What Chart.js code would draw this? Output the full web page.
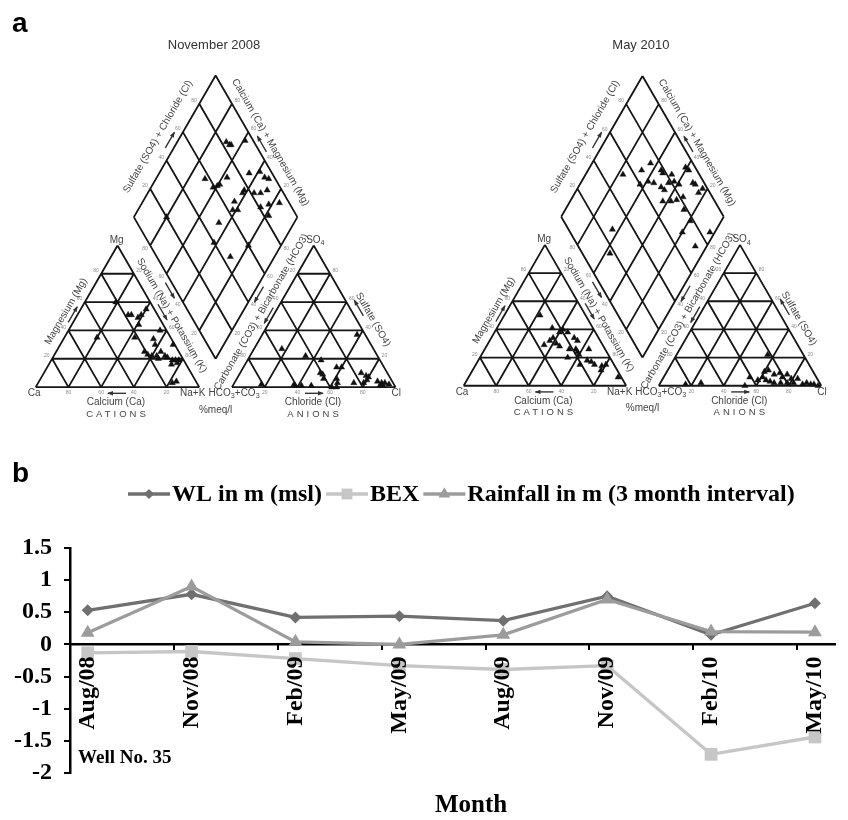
<!DOCTYPE html>
<html>
<head>
<meta charset="utf-8">
<title>Piper diagrams and Well No. 35</title>
<script src="https://cdn.jsdelivr.net/npm/chart.js"></script>
<style>
  html, body { margin: 0; padding: 0; background: #fff; }
  #wrap { position: relative; width: 848px; height: 820px; overflow: hidden; }
  canvas { position: absolute; }
  #piperNov { left: 0; top: 0; }
  #piperMay { left: 424px; top: 0; }
  #wellChart { left: 0; top: 440px; }
</style>
</head>
<body>
<div id="wrap">
  <canvas id="piperNov" width="424" height="430"></canvas>
  <canvas id="piperMay" width="424" height="430"></canvas>
  <canvas id="wellChart" width="848" height="380"></canvas>
</div>
<script>
// ---- a: Piper diagrams, values in %meq/l ----
// cations [Ca, Mg, Na+K]
const nov08Cations = [
  [18, 51, 31], [16, 51, 33], [13, 49, 38], [10, 51, 39], [5, 55, 40], [15, 44, 41], [45, 35, 20],
  [22, 35, 43], [4, 40, 56], [11, 34, 55], [1, 30, 69], [12, 30, 58], [21, 25, 54], [20, 23, 57],
  [18, 22, 60], [15, 22, 63], [10, 22, 68], [9, 21, 70], [7, 19, 74], [5, 19, 76], [3, 19, 78],
  [9, 16, 75], [5, 17, 78], [11, 25, 64], [15, 3, 82], [12, 4, 84], [21, 60, 19], [15, 20, 65]
];
// anions [HCO3+CO3, SO4, Cl]
const nov08Anions = [
  [5, 37, 58], [56, 27, 17], [44, 22, 34], [36, 19, 45], [41, 10, 49], [40, 9, 51], [41, 6, 53],
  [29, 14, 57], [26, 14, 60], [33, 6, 61], [34, 3, 63], [36, 0, 64], [24, 3, 73], [81, 2, 17],
  [62, 1, 37], [61, 1, 38], [57, 1, 42], [51, 1, 48], [16, 10, 74], [14, 8, 78], [13, 7, 80],
  [18, 3, 79], [15, 5, 80], [9, 4, 87], [7, 3, 90], [5, 3, 92], [3, 2, 95], [9, 1, 90], [7, 1, 92], [39, 0, 61]
];
// diamond [Ca+Mg, SO4+Cl]
const nov08Diamond = [
  [70, 83], [67, 84], [66, 85], [59, 95], [70, 57], [57, 71], [62, 59], [60, 62], [59, 64], [45, 86],
  [39, 93], [34, 94], [31, 96], [42, 75], [42, 77], [35, 82], [31, 86], [28, 91], [44, 67], [42, 63],
  [39, 66], [26, 81], [22, 87], [16, 94], [18, 83], [46, 50], [27, 45], [80, 20], [42, 40], [20, 60]
];

const may10Cations = [
  [28, 50, 22], [25, 41, 34], [22, 38, 40], [19, 40, 41], [17, 38, 45], [36, 29, 35], [31, 32, 37],
  [28, 34, 38], [28, 30, 42], [27, 28, 45], [15, 34, 51], [14, 32, 54], [22, 26, 52], [18, 26, 56],
  [18, 24, 58], [18, 22, 60], [10, 26, 64], [26, 20, 54], [21, 15, 64], [15, 18, 67], [13, 17, 70],
  [12, 15, 73], [8, 14, 78], [5, 15, 80], [10, 11, 79], [2, 6, 92]
];
const may10Anions = [
  [22, 22, 56], [83, 1, 16], [73, 2, 25], [47, 0, 53], [41, 6, 53], [33, 6, 61], [30, 10, 60],
  [27, 11, 62], [32, 4, 64], [25, 8, 67], [21, 9, 70], [21, 6, 73], [17, 8, 75], [28, 2, 70],
  [24, 2, 74], [20, 2, 78], [16, 2, 82], [16, 5, 79], [12, 5, 83], [11, 1, 88], [8, 2, 90],
  [6, 1, 93], [4, 1, 95], [2, 0, 98], [30, 3, 67], [37, 4, 59]
];
const may10Diamond = [
  [77, 53], [67, 66], [64, 74], [55, 78], [53, 78], [63, 60], [59, 66], [55, 69], [49, 72], [46, 73],
  [46, 78], [47, 83], [43, 82], [39, 84], [43, 68], [38, 73], [35, 77], [32, 82], [41, 94], [38, 95],
  [31, 93], [29, 94], [23, 97], [24, 93], [27, 78], [19, 78], [20, 69], [3, 86], [7, 72], [64, 27], [57, 17]
];

const piperTicks = [20, 40, 60, 80];

// ---- b: Well No. 35 ----
const months = ['Aug/08', 'Nov/08', 'Feb/09', 'May/09', 'Aug/09', 'Nov/09', 'Feb/10', 'May/10'];
const wlLevel = [0.53, 0.78, 0.42, 0.44, 0.37, 0.75, 0.15, 0.64];
const bexValues = [-0.13, -0.11, -0.22, -0.33, -0.39, -0.33, -1.71, -1.44];
const rainfall = [0.18, 0.90, 0.04, 0.00, 0.15, 0.70, 0.20, 0.19];
const yTicks = [1.5, 1, 0.5, 0, -0.5, -1, -1.5, -2];

// piper geometry, triangle side = 100 units
const SQ = Math.sqrt(3) / 2;
const GAP = 20;
const AN_X = 100 + GAP;
const MID_X = (100 + AN_X) / 2;

function catXY(ca, mg, na) {
  const t = ca + mg + na;
  mg = mg / t * 100; na = na / t * 100;
  return { x: na + mg / 2, y: mg * SQ };
}
function anXY(hco3, so4, cl) {
  const t = hco3 + so4 + cl;
  so4 = so4 / t * 100; cl = cl / t * 100;
  return { x: AN_X + cl + so4 / 2, y: so4 * SQ };
}
function diaXY(camg, so4cl) {
  return { x: MID_X + (so4cl - camg) / 2, y: GAP * SQ + (camg + so4cl) * SQ };
}

function gridSegments() {
  const seg = [];
  const add = (a, b) => { seg.push(a, b, { x: NaN, y: NaN }); };
  for (let v = 0; v < 100; v += 20) {
    add(catXY(100 - v, v, 0), catXY(0, v, 100 - v));
    add(catXY(100 - v, 0, v), catXY(0, 100 - v, v));
    add(catXY(v, 0, 100 - v), catXY(v, 100 - v, 0));
    add(anXY(100 - v, v, 0), anXY(0, v, 100 - v));
    add(anXY(100 - v, 0, v), anXY(0, 100 - v, v));
    add(anXY(v, 0, 100 - v), anXY(v, 100 - v, 0));
  }
  for (let v = 0; v <= 100; v += 20) {
    add(diaXY(v, 0), diaXY(v, 100));
    add(diaXY(0, v), diaXY(100, v));
  }
  return seg;
}

const edgeTicks = [
  [v => catXY(v, 0, 100 - v), 0, -1],
  [v => catXY(100 - v, v, 0), -0.87, 0.5],
  [v => catXY(0, 100 - v, v), 0.87, 0.5],
  [v => anXY(100 - v, 0, v), 0, -1],
  [v => anXY(v, 100 - v, 0), -0.87, 0.5],
  [v => anXY(0, v, 100 - v), 0.87, 0.5],
  [v => diaXY(100, v), -0.87, 0.5],
  [v => diaXY(v, 100), 0.87, 0.5],
  [v => diaXY(v, 0), -0.87, -0.5],
  [v => diaXY(0, v), 0.87, -0.5]
];

function drawArrow(ctx, cx, cy, deg, len) {
  const a = -deg * Math.PI / 180;
  const dx = Math.cos(a), dy = Math.sin(a);
  const x2 = cx + dx * len / 2, y2 = cy + dy * len / 2;
  ctx.beginPath();
  ctx.moveTo(cx - dx * len / 2, cy - dy * len / 2);
  ctx.lineTo(x2, y2);
  ctx.stroke();
  ctx.beginPath();
  ctx.moveTo(x2 + dx, y2 + dy);
  ctx.lineTo(x2 - dx * 5 - dy * 2.2, y2 - dy * 5 + dx * 2.2);
  ctx.lineTo(x2 - dx * 5 + dy * 2.2, y2 - dy * 5 - dx * 2.2);
  ctx.closePath();
  ctx.fill();
}

function drawParts(ctx, parts, x, y, size) {
  let w = 0;
  parts.forEach(([s, sub]) => {
    ctx.font = (sub ? size * 0.72 : size) + 'px "Liberation Sans"';
    w += ctx.measureText(s).width;
  });
  let cx = x - w / 2;
  ctx.textAlign = 'left';
  parts.forEach(([s, sub]) => {
    ctx.font = (sub ? size * 0.72 : size) + 'px "Liberation Sans"';
    ctx.fillText(s, cx, sub ? y + size * 0.3 : y);
    cx += ctx.measureText(s).width;
  });
  ctx.textAlign = 'center';
}

const piperText = {
  id: 'piperText',
  afterDatasetsDraw(chart, args, opts) {
    const { ctx } = chart;
    const xs = chart.scales.x, ys = chart.scales.y;
    const at = (x, y) => [xs.getPixelForValue(x), ys.getPixelForValue(y)];
    ctx.save();
    ctx.textAlign = 'center';
    ctx.textBaseline = 'middle';

    // small percentage numbers along the edges
    ctx.font = '5px "Liberation Sans"';
    ctx.fillStyle = '#8a8a8a';
    edgeTicks.forEach(([fn, nx, ny]) => {
      piperTicks.forEach(v => {
        const p = fn(v);
        const [px, py] = at(p.x, p.y);
        ctx.fillText(String(v), px + nx * 6, py - ny * 6);
      });
    });

    ctx.fillStyle = '#444';
    ctx.font = '10px "Liberation Sans"';
    [['Ca', -1, -3.8], ['Na+K', 96, -3.8], ['Mg', 49.5, 89.8], ['Calcium (Ca)', 49, -9.4],
     ['Cl', 220.5, -3.8], ['Chloride (Cl)', 169.5, -9.4], ['%meq/l', 110, -14]].forEach(([t, x, y]) => {
      const [px, py] = at(x, y);
      ctx.fillText(t, px, py);
    });
    let [hx, hy] = at(121.3, -3.8);
    drawParts(ctx, [['HCO', 0], ['3', 1], ['+CO', 0], ['3', 1]], hx, hy, 10);
    [hx, hy] = at(171, 89.8);
    drawParts(ctx, [['SO', 0], ['4', 1]], hx, hy, 10);

    ctx.font = '9.5px "Liberation Sans"';
    ctx.letterSpacing = '3px';
    [['CATIONS', 50, -16.4], ['ANIONS', 170.5, -16.4]].forEach(([t, x, y]) => {
      const [px, py] = at(x, y);
      ctx.fillText(t, px, py);
    });
    ctx.letterSpacing = '0px';

    ctx.font = '10px "Liberation Sans"';
    [['Magnesium (Mg)', 18.6, 46.3, -60], ['Sodium (Na) + Potassium (K)', 83.1, 43.8, 60],
     ['Carbonate (CO3) + Bicarbonate (HCO3)', 138, 45.9, -60], ['Sulfate (SO4)', 206.2, 41.3, 60],
     ['Sulfate (SO4) + Chloride (Cl)', 74.7, 153.1, -60], ['Calcium (Ca) + Magnesium (Mg)', 143.5, 149.6, 60]
    ].forEach(([t, x, y, r]) => {
      const [px, py] = at(x, y);
      ctx.save();
      ctx.translate(px, py);
      ctx.rotate(r * Math.PI / 180);
      ctx.fillText(t, 0, 0);
      ctx.restore();
    });

    ctx.strokeStyle = '#333';
    ctx.fillStyle = '#333';
    ctx.lineWidth = 1.4;
    [[49.7, -3.8, 180], [170.1, -3.8, 0], [22.6, 44.3, 60], [77.5, 45.9, -60], [82, 59.1, -60],
     [142.5, 43.8, 240], [136.5, 56.7, 240], [197.6, 48.3, 120], [82, 151, 60], [138.3, 148.6, 120]
    ].forEach(([x, y, d]) => {
      const [px, py] = at(x, y);
      drawArrow(ctx, px, py, d, 18);
    });

    ctx.fillStyle = '#333';
    ctx.font = '13px "Liberation Sans"';
    const [tx, ty] = at(109, 209);
    ctx.fillText(opts.title, tx, ty);

    if (opts.letter) {
      ctx.fillStyle = '#000';
      ctx.font = 'bold 28px "Liberation Sans"';
      ctx.textAlign = 'left';
      ctx.textBaseline = 'alphabetic';
      ctx.fillText(opts.letter, 12, 32);
    }
    ctx.restore();
  }
};

function makePiper(id, title, letter, cations, anions, diamond, frame) {
  const samples = [
    ...cations.map(c => catXY(c[0], c[1], c[2])),
    ...anions.map(a => anXY(a[0], a[1], a[2])),
    ...diamond.map(d => diaXY(d[0], d[1]))
  ];
  return new Chart(document.getElementById(id), {
    type: 'scatter',
    data: {
      datasets: [
        { label: 'samples', data: samples, pointStyle: 'triangle', pointRadius: 3.6,
          backgroundColor: '#111', borderColor: '#111', pointBorderWidth: 0.4, order: 1 },
        { label: 'grid', data: gridSegments(), showLine: true, spanGaps: false, pointRadius: 0,
          borderColor: '#161616', borderWidth: 1.8, order: 2 }
      ]
    },
    options: {
      responsive: false,
      animation: false,
      events: [],
      layout: { padding: 0 },
      plugins: { legend: { display: false }, tooltip: { enabled: false }, piperText: { title, letter } },
      scales: {
        x: { type: 'linear', display: false, min: frame[0], max: frame[1] },
        y: { type: 'linear', display: false, min: frame[2], max: frame[3] }
      }
    },
    plugins: [piperText]
  });
}

makePiper('piperNov', 'November 2008', 'a', nov08Cations, nov08Anions, nov08Diamond, [-19.16, 234.73, -23.53, 233.95]);
makePiper('piperMay', 'May 2010', '', may10Cations, may10Anions, may10Diamond, [-21.69, 233.73, -24.52, 234.52]);

// ---- b chart ----
const serif = '"Liberation Serif", "Times New Roman", serif';
const toXY = vals => vals.map((v, i) => ({ x: i, y: v }));

const wellDecor = {
  id: 'wellDecor',
  afterDraw(chart) {
    const { ctx } = chart;
    ctx.save();
    ctx.textBaseline = 'middle';
    ctx.textAlign = 'left';
    ctx.font = 'bold 24px ' + serif;
    let x = 128;
    const y = 54;
    chart.data.datasets.forEach(ds => {
      ctx.strokeStyle = ds.borderColor;
      ctx.lineWidth = ds.borderWidth;
      ctx.beginPath();
      ctx.moveTo(x, y);
      ctx.lineTo(x + 42, y);
      ctx.stroke();
      ctx.fillStyle = ds.backgroundColor;
      Chart.helpers.drawPoint(ctx, { pointStyle: ds.pointStyle, radius: ds.pointRadius * 0.85, rotation: 0, borderWidth: 0 }, x + 21, y);
      ctx.fillStyle = '#000';
      ctx.fillText(ds.label, x + 44, y + 1);
      x += 44 + ctx.measureText(ds.label).width + 4;
    });

    ctx.font = 'bold 19px ' + serif;
    ctx.fillText('Well No. 35', 78, 318);
    ctx.font = 'bold 25px ' + serif;
    ctx.textAlign = 'center';
    ctx.fillText('Month', 471, 366);
    ctx.font = 'bold 28px "Liberation Sans"';
    ctx.textAlign = 'left';
    ctx.textBaseline = 'alphabetic';
    ctx.fillText('b', 12, 42);
    ctx.restore();
  }
};

new Chart(document.getElementById('wellChart'), {
  type: 'line',
  data: {
    datasets: [
      { label: 'WL in m (msl)', data: toXY(wlLevel), borderColor: '#707070', backgroundColor: '#707070',
        borderWidth: 3.3, pointStyle: 'rectRot', pointRadius: 6, pointBorderWidth: 0, order: 3, clip: false },
      { label: 'BEX', data: toXY(bexValues), borderColor: '#c6c6c6', backgroundColor: '#c6c6c6',
        borderWidth: 3.3, pointStyle: 'rect', pointRadius: 9, pointBorderWidth: 0, order: 2, clip: false },
      { label: 'Rainfall in m (3 month interval)', data: toXY(rainfall), borderColor: '#9c9c9c', backgroundColor: '#9c9c9c',
        borderWidth: 3.3, pointStyle: 'triangle', pointRadius: 8, pointBorderWidth: 0, order: 1, clip: false }
    ]
  },
  options: {
    responsive: false,
    animation: false,
    events: [],
    layout: { padding: { top: 108, bottom: 47, left: 0, right: 0 } },
    plugins: { legend: { display: false }, tooltip: { enabled: false } },
    scales: {
      x: {
        type: 'linear', min: -0.17, max: 7.2, position: { y: 0 },
        afterFit: s => { s.height = 0; },
        afterBuildTicks: s => { s.ticks = months.map((m, i) => ({ value: i })); },
        grid: { display: false },
        border: { display: true, color: '#000', width: 2.5 },
        ticks: { z: 1, autoSkip: false, minRotation: 90, maxRotation: 90, padding: 4, color: '#000',
          font: { family: serif, size: 24, weight: 'bold' }, callback: v => months[v] }
      },
      xTicks: {
        type: 'linear', axis: 'x', min: -0.17, max: 7.2, position: { y: 0 },
        afterFit: s => { s.height = 0; },
        afterBuildTicks: s => { s.ticks = months.slice(1).map((m, i) => ({ value: i + 0.83 })); },
        grid: { drawOnChartArea: false, tickLength: 6, color: '#000', lineWidth: 2 },
        border: { display: false },
        ticks: { display: false }
      },
      y: {
        type: 'linear', min: -2, max: 1.5,
        afterFit: s => { s.width = 70; },
        afterBuildTicks: s => { s.ticks = yTicks.map(v => ({ value: v })); },
        grid: { drawOnChartArea: false, tickLength: 6, color: '#000', lineWidth: 2 },
        border: { color: '#000', width: 2.5 },
        ticks: { padding: 12, color: '#000', font: { family: serif, size: 24, weight: 'bold' }, callback: v => String(v) }
      }
    }
  },
  plugins: [wellDecor]
});
</script>
</body>
</html>
